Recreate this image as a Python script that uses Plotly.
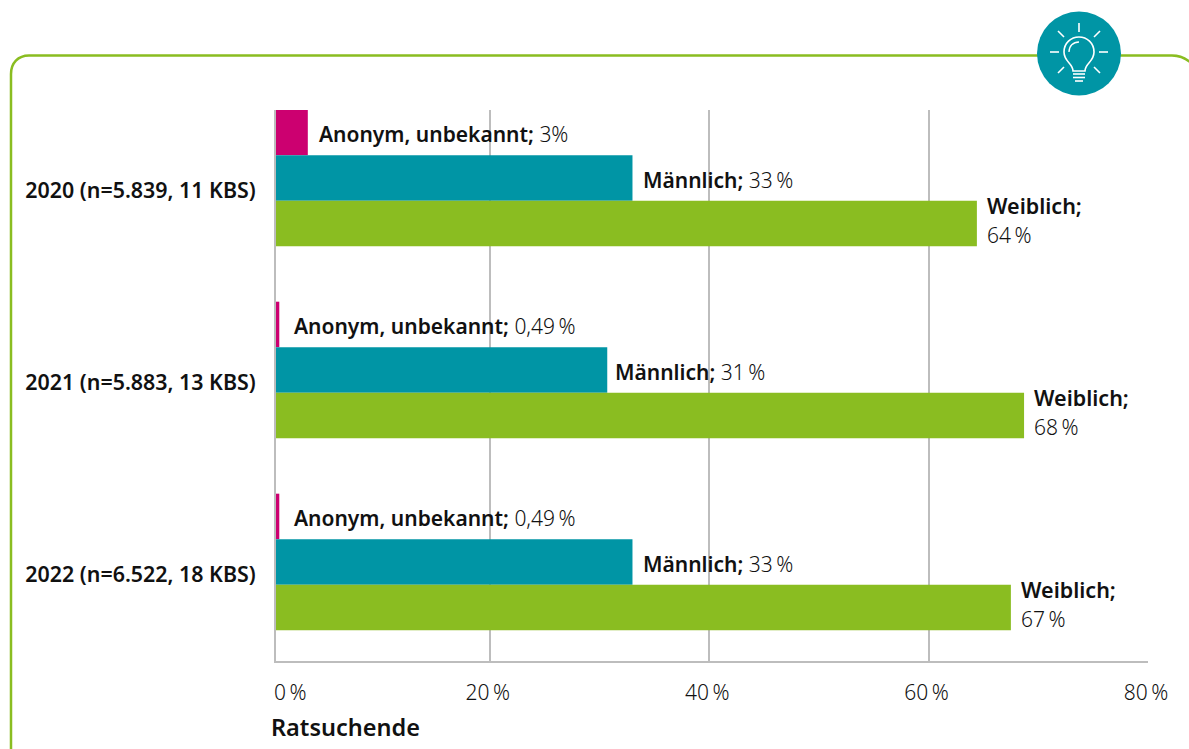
import plotly.graph_objects as go

W, H = 1189, 749
L, R, T, B = 276, 1148, 110, 661

years = ["2020 (n=5.839, 11 KBS)", "2021 (n=5.883, 13 KBS)", "2022 (n=6.522, 18 KBS)"]
positions = [0, 1, 2]
anonym = [3.4, 0.8, 0.8]
maennlich = [33.0, 30.7, 33.0]
weiblich = [64.4, 68.7, 67.5]
anonym_labels = ["3%", "0,49\u2009%", "0,49\u2009%"]
maennlich_labels = ["33\u2009%", "31\u2009%", "33\u2009%"]
weiblich_labels = ["64\u2009%", "68\u2009%", "67\u2009%"]
x_ticks = [20, 40, 60, 80]
x_ticktext = ["20\u2009%", "40\u2009%", "60\u2009%", "80\u2009%"]

PINK, TEAL, GREEN = "#CC0070", "#0095A5", "#8ABD21"
GRID = "#BDBDBD"
FONT = "Noto Sans"
INK = "#111111"


def px(x):
    return (x - L) / (R - L)


def py(y):
    return (B - y) / (B - T)


def path(cmds):
    out = []
    for c in cmds:
        if isinstance(c, str):
            out.append(c)
        else:
            out.append(f"{px(c[0]):.5f},{py(c[1]):.5f}")
    return " ".join(out)


fig = go.Figure()
for name, vals, col in [("Anonym, unbekannt", anonym, PINK), ("Männlich", maennlich, TEAL), ("Weiblich", weiblich, GREEN)]:
    fig.add_trace(go.Bar(y=positions, x=vals, name=name, orientation="h", marker=dict(color=col, line_width=0), showlegend=False))

ann = []
BAND = 192.0


def label(x, y, text, xshift, yshift, weight=None, size=21):
    ann.append(dict(x=x, y=y, xref="x", yref="y", xanchor="left", yanchor="middle", align="left",
                    xshift=xshift, yshift=yshift, showarrow=False, text=text,
                    font=dict(family=FONT, size=size, color=INK, weight=weight or 400)))


def pair(head, val):
    return f"<span style='font-weight:600'>{head};</span> <span style='font-weight:300'>{val}</span>"


for i, p in enumerate(positions):
    label(anonym[i], p - 0.237, pair("Anonym, unbekannt", anonym_labels[i]), 9 if i == 0 else 13, -2)
    label(maennlich[i], p, pair("Männlich", maennlich_labels[i]), 9 if i != 1 else 6, -2)
    label(weiblich[i], p + 0.237, "Weiblich;", 8, 18, 600, 21.5)
    label(weiblich[i], p + 0.237, weiblich_labels[i], 8, -12, 300)

ann.append(dict(x=0.5, y=2.516, xref="x", yref="y", xanchor="left", yanchor="top", xshift=-4, yshift=-15, showarrow=False,
                text="0\u2009%", font=dict(family=FONT, size=21, color=INK, weight=300)))
ann.append(dict(x=0.5, y=2.516, xref="x", yref="y", xanchor="left", yanchor="top", xshift=-7, yshift=-48, showarrow=False,
                text="Ratsuchende", font=dict(family=FONT, size=23.5, color=INK, weight=600)))

# frame and icon (page decoration)
shapes = [dict(type="path", xref="paper", yref="paper", layer="below", line=dict(color=GREEN, width=2.5),
               path="M " + path([(11, 760), "L", (11, 74), "C", (11, 63), (18, 55.5), (29, 55.5), "L", (1172, 55.5), "C", (1180, 55.5), (1185, 58), (1190, 62)]))]
cx, cy, r = 1079, 53.5, 42
shapes.append(dict(type="circle", xref="paper", yref="paper", x0=px(cx - r), x1=px(cx + r), y0=py(cy + r), y1=py(cy - r),
                   fillcolor=TEAL, line_width=0, layer="above"))
rays = [((1079, 23), (1079, 32)), ((1050, 52), (1059, 52)), ((1099, 52), (1108, 52)),
        ((1058, 31), (1064, 37)), ((1100, 31), (1094, 37)), ((1058, 73), (1064, 67)), ((1100, 73), (1094, 67)),
        ((1073, 74), (1085, 74)), ((1073, 77.5), (1085, 77.5)), ((1075, 81), (1083, 81))]
for a, b in rays:
    shapes.append(dict(type="line", xref="paper", yref="paper", x0=px(a[0]), y0=py(a[1]), x1=px(b[0]), y1=py(b[1]),
                       line=dict(color="white", width=1.6), layer="above"))
bulb = path(["M", (1073, 71), "C", (1073, 63), (1064, 62), (1064, 52), "C", (1064, 43), (1071, 37), (1079, 37),
             "C", (1087, 37), (1094, 43), (1094, 52), "C", (1094, 62), (1085, 63), (1085, 71), "Z"])
shapes.append(dict(type="path", xref="paper", yref="paper", path=bulb, line=dict(color="white", width=1.6), layer="above"))
shine = path(["M", (1069, 52), "C", (1069, 46), (1073, 42), (1079, 42)])
shapes.append(dict(type="path", xref="paper", yref="paper", path=shine, line=dict(color="white", width=1.3), layer="above"))

fig.update_layout(
    width=W, height=H, autosize=False, paper_bgcolor="white", plot_bgcolor="white",
    margin=dict(l=L, r=W - R, t=T, b=H - B, pad=0),
    barmode="group", bargap=0.289, bargroupgap=0,
    font=dict(family=FONT, size=21, color=INK),
    annotations=ann, shapes=shapes,
    xaxis=dict(range=[0.5, 80], tickvals=x_ticks, ticktext=x_ticktext, showgrid=True, gridcolor=GRID, gridwidth=1.5,
               zeroline=False, showline=True, linecolor=GRID, linewidth=2,
               ticks="outside", ticklen=12, tickcolor="rgba(0,0,0,0)", ticklabelshift=-2,
               tickfont=dict(family=FONT, size=21, color=INK, weight=300)),
    yaxis=dict(range=[2.516, -0.354], tickvals=[p + 13 / BAND for p in positions], ticktext=years, showgrid=False,
               zeroline=False, showline=True, linecolor=GRID, linewidth=2,
               ticks="outside", ticklen=14, tickcolor="rgba(0,0,0,0)",
               tickfont=dict(family=FONT, size=21.4, color=INK, weight=600)),
)

fig.write_html("out.html", config=dict(displayModeBar=False),
               post_script="document.body.style.margin='0';document.body.style.overflow='hidden';")
